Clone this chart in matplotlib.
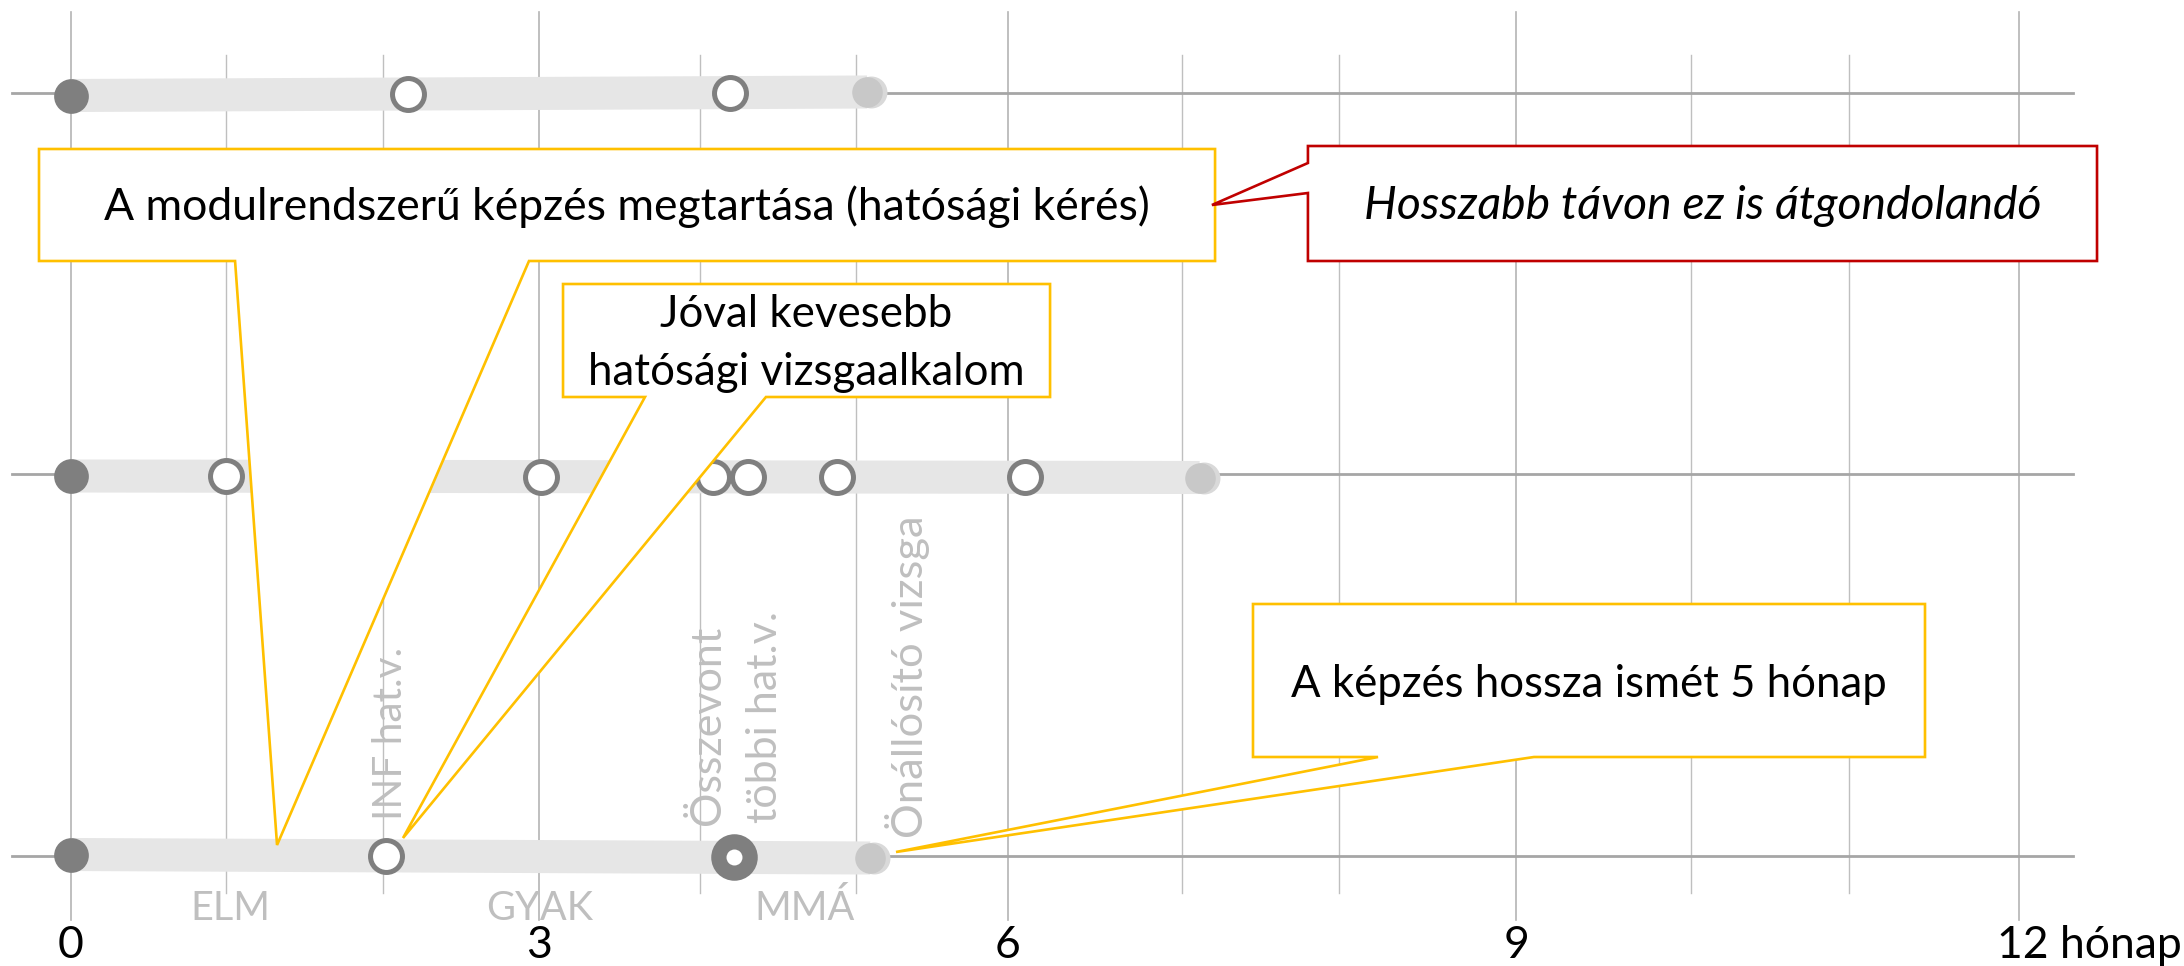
import numpy as np
import matplotlib.pyplot as plt
from matplotlib.patches import Polygon

# x values are months, y values are pixels from the top of the picture

# vertical grid as drawn (right half of the scale is a bit stretched)
grid_x = [0, 0.99, 2.0, 3.0, 4.03, 5.03, 6.0, 7.12, 8.12, 9.26, 10.38, 11.39, 12.48]
major_idx = [0, 3, 6, 9, 12]
tick_labels = ["0", "3", "6", "9", "12 hónap"]

# three training schemes, one row each
row_y = [93, 474, 856]
bar_y = [(95.5, 92.0), (476.0, 477.5), (854.5, 858.0)]
row_events = [
    [0, 2.16, 4.22, 5.10],
    [0, 0.99, 3.01, 4.11, 4.34, 4.91, 6.11, 7.23],
    [0, 2.02, 4.25, 5.12],
]
row_kinds = [
    ["start", "exam", "exam", "end"],
    ["start", "exam", "exam", "exam", "exam", "exam", "exam", "end"],
    ["start", "exam", "merged", "end"],
]

phase_labels = ["ELM", "GYAK", "MMÁ"]
phase_x = [1.02, 3.0, 4.70]

exam_labels = ["INF hat.v.", "Összevont", "többi hat.v.", "Önállósító vizsga"]
exam_x = [2.12, 4.16, 4.52, 5.46]
exam_bottom = [820, 825, 823, 838]

callout_texts = [
    ["A modulrendszerű képzés megtartása (hatósági kérés)"],
    ["Jóval kevesebb", "hatósági vizsgaalkalom"],
    ["A képzés hossza ismét 5 hónap"],
    ["Hosszabb távon ez is átgondolandó"],
]


fig = plt.figure(figsize=(21.84, 9.66), dpi=100)
ax = fig.add_axes([0, 0, 1, 1])
ax.set_xlim(-71 / 156.1, (2184 - 71) / 156.1)
ax.set_ylim(966, 0)
ax.axis("off")
renderer = fig.canvas.get_renderer()


def fit(t, target_px, along_y=False):
    bb = t.get_window_extent(renderer)
    size = bb.height if along_y else bb.width
    t.set_fontsize(t.get_fontsize() * target_px / size)
    return t.get_fontsize()


# grid
for i, gx in enumerate(grid_x):
    if i in major_idx:
        ax.plot([gx, gx], [12, 920], color="#b4b4b4", lw=1.2, zorder=1)
    else:
        ax.plot([gx, gx], [55, 893], color="#bfbfbf", lw=1.0, zorder=1)

for y in row_y:
    ax.plot([-0.378, 12.825], [y, y], color="#a6a6a6", lw=2.0, zorder=2)

# bars and milestones
for xs, kinds, (ya, yb) in zip(row_events, row_kinds, bar_y):
    xs = np.array(xs, dtype=float)
    ys = ya + (yb - ya) * (xs - xs[0]) / (xs[-1] - xs[0])
    ax.plot([xs[0], xs[-1]], [ya, yb], color="#e6e6e6", lw=23.8,
            solid_capstyle="butt", zorder=3)
    for x, y, k in zip(xs, ys, kinds):
        if k == "start":
            ax.plot(x, y, "o", ms=25, mfc="#7f7f7f", mec="none", zorder=4)
        elif k == "exam":
            ax.plot(x, y, "o", ms=23, mfc="white", mec="#7f7f7f", mew=3.6, zorder=4)
        elif k == "merged":
            ax.plot(x, y, "o", ms=33.5, mfc="#7f7f7f", mec="none", zorder=4)
            ax.plot(x, y, "o", ms=11.5, mfc="white", mec="none", zorder=4)
        else:
            ax.plot(x + 0.025, y, "o", ms=23, mfc="#d9d9d9", mec="none", zorder=4)
            ax.plot(x, y, "o", ms=22, mfc="#c8c8c8", mec="none", zorder=4)

# month ticks
for i, lab in zip(major_idx, tick_labels):
    if lab.startswith("12"):
        ax.text(grid_x[i] - 0.14, 958, lab, ha="left", va="baseline",
                fontsize=32, family="Lato", color="black")
    else:
        ax.text(grid_x[i], 958, lab, ha="center", va="baseline",
                fontsize=32, family="Lato", color="black")

# phase names under the bottom row
fs = None
for lab, x in zip(phase_labels, phase_x):
    t = ax.text(x, 920, lab, ha="center", va="baseline", fontsize=24,
                family="Lato", color="#bfbfbf", zorder=4)
    if fs is None:
        fs = fit(t, 80)
    else:
        t.set_fontsize(fs)

# exam names, vertical
vt = []
for lab, x, yb in zip(exam_labels, exam_x, exam_bottom):
    t = ax.text(x, yb, lab, rotation=90, rotation_mode="anchor", ha="left",
                va="baseline", fontsize=24, family="Lato",
                color="#bfbfbf", zorder=4)
    vt.append(t)
fit(vt[0], 173, along_y=True)
fs_v = fit(vt[2], 213, along_y=True)
vt[1].set_fontsize(fs_v)
fit(vt[3], 323, along_y=True)


# callouts
def callout(x0, x1, y0, y1, tip, base=None, notch=None, color="#FFC000"):
    tx, ty = tip
    if base is not None:
        pts = [(x0, y0), (x1, y0), (x1, y1), (base[1], y1), (tx, ty),
               (base[0], y1), (x0, y1)]
    else:
        pts = [(x0, y0), (x1, y0), (x1, y1), (x0, y1), (x0, notch[1]),
               (tx, ty), (x0, notch[0])]
    ax.add_patch(Polygon(pts, closed=True, fc="white", ec=color, lw=1.9,
                         joinstyle="miter", zorder=5))
    return (x0 + x1) / 2


cx = callout(-0.205, 7.329, 149, 261, (1.32, 845), base=(1.051, 2.934))
t = ax.text(cx, 220, callout_texts[0][0], ha="center", va="baseline",
            fontsize=30, family="Lato", zorder=6)
fit(t, 1045)

cx = callout(3.152, 6.272, 284, 397, (2.127, 838), base=(3.677, 4.452))
t1 = ax.text(cx, 327, callout_texts[1][0], ha="center", va="baseline",
             fontsize=30, family="Lato", zorder=6)
t2 = ax.text(cx, 385, callout_texts[1][1], ha="center", va="baseline",
             fontsize=30, family="Lato", zorder=6)
t1.set_fontsize(fit(t2, 437))

cx = callout(7.572, 11.877, 604, 757, (5.285, 852), base=(8.373, 9.372))
t = ax.text(cx, 697, callout_texts[2][0], ha="center", va="baseline",
            fontsize=30, family="Lato", zorder=6)
fit(t, 595)

cx = callout(7.924, 12.979, 146, 261, (7.309, 205), notch=(163, 193),
             color="#C00000")
t = ax.text(cx, 219, callout_texts[3][0], ha="center", va="baseline",
            fontsize=30, family="Lato", style="italic", zorder=6)
fit(t, 677)

fig.savefig("out.png", dpi=100)
